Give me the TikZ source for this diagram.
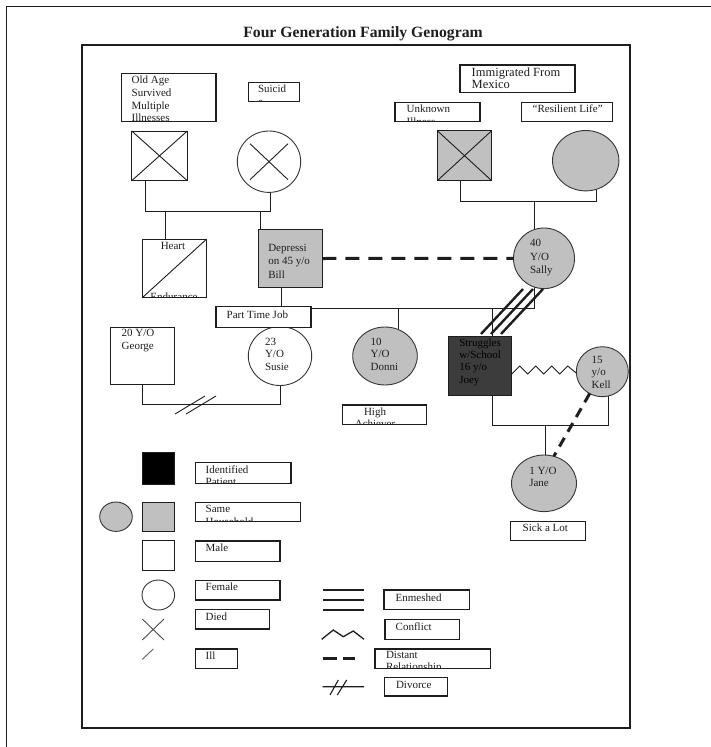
\documentclass[tikz,border=0pt]{standalone}
\usepackage{fontspec}
\setmainfont{Liberation Serif}
\usetikzlibrary{backgrounds,shapes.geometric,calc}
\definecolor{gfill}{HTML}{C0C0C0}
\definecolor{jfill}{HTML}{3C3C3C}
\definecolor{ink}{HTML}{1E1E1E}
\newcommand\ml[2][12.3]{{\fontsize{11}{#1}\selectfont\begin{tabular}[t]{@{}l@{}}#2\end{tabular}}}
\newcommand\tb[5]{\node[tbox, minimum width=#4, minimum height=#5] (#1) at (#2,#3) {};}
\newcommand\btext[5][12.3]{\begin{scope}\clip (#2.south west) rectangle (#2.north east);\node[lbl,anchor=base west] (#2-t) at (#3,#4) {\ml[#1]{#5}};\end{scope}}
\tikzset{
  tbox/.style={draw=ink, line width=1.1pt, fill=white, anchor=north west, inner sep=0pt, outer sep=0pt},
  sq/.style={draw=ink, line width=0.9pt, anchor=north west, inner sep=0pt, outer sep=0pt},
  circ/.style={ellipse, draw=ink!90, line width=0.9pt, inner sep=0pt, outer sep=0pt},
  lbl/.style={inner sep=0pt, outer sep=0pt, text=ink},
  conn/.style={draw=ink, line width=0.9pt},
  distant/.style={draw=ink, line width=3pt, dash pattern=on 14pt off 9pt},
  enm/.style={draw=ink, line width=2.4pt},
}
\begin{document}
\begin{tikzpicture}[x=1pt,y=-1pt]
\useasboundingbox (0,0) rectangle (710,747);
% ---------- shapes ----------
\node[draw=ink, line width=2.4pt, anchor=north west, minimum width=548.5, minimum height=683, inner sep=0pt] (frame) at (80.5,44) {};
\node[font=\fontsize{15.7}{18}\selectfont\bfseries, anchor=base, inner sep=0pt, text=ink] (title) at (363,37.5) {Four Generation Family Genogram};

\node[sq, fill=white, minimum width=55.6, minimum height=49.7] (gf1) at (131.7,131) {};
\node[circ, fill=white, minimum width=63.4, minimum height=61.4] (gm1) at (269,161.7) {};
\node[sq, fill=gfill, minimum width=54.4, minimum height=50] (gf2) at (437.3,130.7) {};
\node[circ, fill=gfill, minimum width=66.4, minimum height=60.4] (gm2) at (585.7,160.7) {};

\node[sq, fill=white, minimum width=64, minimum height=58.3] (heart) at (142.7,239) {};
\node[sq, fill=gfill, minimum width=64, minimum height=58.4] (bill) at (258.3,229.3) {};
\node[circ, fill=gfill, minimum width=61, minimum height=60.6] (sally) at (544,258.3) {};

\node[sq, fill=white, minimum width=64.3, minimum height=57] (george) at (110.5,327.3) {};
\node[circ, fill=white, minimum width=63.4, minimum height=59] (susie) at (280,356) {};
\node[circ, fill=gfill, minimum width=64.6, minimum height=58] (donni) at (385,356) {};
\node[sq, fill=jfill, minimum width=63.4, minimum height=59] (joey) at (448.3,336.7) {};
\node[circ, fill=gfill, minimum width=52, minimum height=50] (kell) at (602.3,371.7) {};
\node[circ, fill=gfill, minimum width=65, minimum height=56.6] (jane) at (544,483.3) {};

% ---------- connectors (behind) ----------
\begin{scope}[on background layer]
\fill[white] (0,0) rectangle (710,747);
\draw[line width=1.4pt, ink] (712,6.7) -- (6.7,6.7) -- (6.7,749);
\coordinate (b1L) at (145,211.7); \coordinate (b1R) at (270.7,211.7);
\draw[conn] (b1L |- gf1.center) -- (b1L) -- (b1R) -- (b1R |- gm1.center);
\coordinate (hx) at (165.7,211.7); \draw[conn] (hx) -- (hx |- heart.center);
\coordinate (bx) at (260,211.7); \draw[conn] (bx) -- (bx |- bill.center);
\coordinate (b2L) at (460.7,201); \coordinate (b2R) at (596,201); \coordinate (b2M) at (534,201);
\draw[conn] (b2L |- gf2.center) -- (b2L) -- (b2R) -- (b2R |- gm2.center);
\draw[conn] (b2M) -- (b2M |- sally.center);
\coordinate (c3L) at (281.7,308.3); \coordinate (c3R) at (534,308.3);
\draw[conn] (c3L |- bill.center) -- (c3L) -- (c3R) -- (c3R |- sally.center);
\coordinate (dn) at (398.3,308.3); \draw[conn] (dn) -- (dn |- donni.center);
\coordinate (sz) at (280,308.3); \draw[conn] (sz) -- (susie.center);
\coordinate (jy) at (492.3,308.3); \coordinate (hhL) at (492.3,425); \coordinate (hhR) at (608.3,425); \coordinate (hhM) at (545,425);
\draw[conn] (jy) -- (hhL) -- (hhR) -- (hhR |- kell.center);
\draw[conn] (hhM) -- (hhM |- jane.center);
\coordinate (dvL) at (142.7,404.3); \coordinate (dvR) at (280,404.3);
\draw[conn] (dvL |- george.center) -- (dvL) -- (dvR) -- (susie.center);
\end{scope}

% ---------- marks on shapes ----------
\draw[conn] (gf1.north west) -- (gf1.south east) (gf1.south west) -- (gf1.north east);
\draw[conn] (gf2.north west) -- (gf2.south east) (gf2.south west) -- (gf2.north east);
\draw[conn] ($(gm1.center)+(-19,-18)$) -- ($(gm1.center)+(19,18)$) ($(gm1.center)+(-19,18)$) -- ($(gm1.center)+(19,-18)$);
\draw[conn] (heart.south west) -- (heart.north east);

% relationships
\draw[distant] (bill.east) -- (sally.west);
\draw[distant, dash pattern=on 10pt off 7pt] (kell.240) -- (jane.70);
\coordinate (e1a) at (481,334); \coordinate (e1b) at (523,289);
\coordinate (e2a) at (491,334); \coordinate (e2b) at (533,289);
\coordinate (e3a) at (501,334); \coordinate (e3b) at (543,289);
\draw[enm] (e1a) -- (e1b) (e2a) -- (e2b) (e3a) -- (e3b);
\coordinate (cz0) at (511.7,374);
\draw[conn] (cz0) -- ++(8,-8) -- ++(8,8) -- ++(8,-8) -- ++(8,8) -- ++(8,-8) -- ++(8,8) -- ++(8,-8) -- ++(8.5,7);
\coordinate (dv1a) at (175,414); \coordinate (dv1b) at (205,396);
\coordinate (dv2a) at (186,414); \coordinate (dv2b) at (216,396);
\draw[conn] (dv1a) -- (dv1b) (dv2a) -- (dv2b);

% ---------- texts in shapes ----------
\node[lbl, anchor=base] (heart-t) at (173,249) {\fontsize{11}{12}\selectfont Heart};
\begin{scope}\clip (heart.south west) rectangle (heart.north east);
\node[lbl, anchor=base] (heart-e) at (174,300) {\fontsize{11}{12}\selectfont Endurance};
\end{scope}
\node[lbl, anchor=base west] (bill-t) at (268.3,251.7) {\ml[13.2]{Depressi\\on 45 y/o\\Bill}};
\node[lbl, anchor=base west] (sally-t) at (530,246.7) {\ml[13.3]{40\\Y/O\\Sally}};
\node[lbl, anchor=base west] (george-t) at (121.7,336.7) {\ml[12.3]{20 Y/O\\George}};
\node[lbl, anchor=base west] (susie-t) at (265,345) {\ml[12.5]{23\\Y/O\\Susie}};
\node[lbl, anchor=base west] (donni-t) at (370.7,345) {\ml[12.5]{10\\Y/O\\Donni}};
\node[lbl, anchor=base west, text=black] (joey-t) at (459.3,346) {\ml[12.4]{Struggles\\w/School\\16 y/o\\Joey}};
\node[lbl, anchor=base west] (kell-t) at (591.7,363.3) {\ml[12.5]{15\\y/o\\Kell}};
\node[lbl, anchor=base west] (jane-t) at (529.3,474) {\ml[12]{1 Y/O\\Jane}};

% ---------- text boxes ----------
\tb{oldage}{121.7}{73.3}{94.3}{48.4}
\btext[12.8]{oldage}{131.7}{83.5}{Old Age\\Survived\\Multiple\\Illnesses}
\tb{suicide}{248.3}{82.7}{51}{19}
\btext{suicide}{258}{92.7}{Suicid\\e}
\tb{immig}{460}{65}{115}{27.7}
\begin{scope}\clip (immig.south west) rectangle (immig.north east);
\node[lbl, anchor=base west] (immig-t) at (471.7,76.5) {\fontsize{12.5}{12.3}\selectfont\begin{tabular}[t]{@{}l@{}}Immigrated From\\Mexico\end{tabular}};
\end{scope}
\tb{unknown}{395}{102.3}{85}{19.4}
\btext{unknown}{406.7}{112.7}{Unknown\\Illness}
\tb{resil}{521.7}{102.3}{90.6}{19.4}
\btext{resil}{532.7}{112.7}{“Resilient Life”}
\tb{ptjob}{216}{306.7}{95}{20.6}
\btext{ptjob}{226.7}{318}{Part Time Job}
\tb{achiever}{342.7}{405}{84}{19.3}
\begin{scope}\clip (achiever.south west) rectangle (achiever.north east);
\node[lbl, anchor=base] (achiever-t) at (375,415) {\fontsize{11}{12.3}\selectfont\begin{tabular}[t]{@{}c@{}}High\\Achiever\end{tabular}};
\end{scope}
\tb{sick}{510.7}{521.7}{75}{19}
\btext{sick}{522.7}{531.7}{Sick a Lot}

% ---------- legend ----------
\node[sq, fill=black, minimum width=32, minimum height=31.3] (lg-black) at (142.3,452.7) {};
\node[circ, fill=gfill, minimum width=32.6, minimum height=29.4] (lg-gcirc) at (116,516.7) {};
\node[sq, fill=gfill, minimum width=32, minimum height=28.7] (lg-gsq) at (142.3,502.3) {};
\node[sq, fill=white, minimum width=32, minimum height=30] (lg-male) at (142.3,540.7) {};
\node[circ, fill=white, minimum width=32.6, minimum height=30] (lg-fem) at (158.3,595) {};
\coordinate (x1a) at (142.3,619); \coordinate (x1b) at (164,640);
\coordinate (x2a) at (142.3,640); \coordinate (x2b) at (164,619);
\draw[conn, draw=ink!80] (x1a) -- (x1b) (x2a) -- (x2b);
\coordinate (il1) at (142.3,659.3); \coordinate (il2) at (153.3,649);
\draw[conn, draw=ink!70] (il1) -- (il2);

\tb{lgid}{195.3}{462.7}{95.7}{20.6}
\btext{lgid}{205.7}{473.3}{Identified\\Patient}
\tb{lgsame}{195.3}{502.3}{105.4}{19.4}
\btext{lgsame}{205.7}{512.7}{Same\\Household}
\tb{lgmale}{195.3}{541}{84.7}{20.7}
\btext{lgmale}{205.7}{551.7}{Male}
\tb{lgfem}{195.3}{580.7}{84.7}{19.3}
\btext{lgfem}{205.7}{590}{Female}
\tb{lgdied}{195.3}{609.3}{74}{19.7}
\btext{lgdied}{205.7}{620}{Died}
\tb{lgill}{195.3}{649}{42.4}{19.7}
\btext{lgill}{205.7}{659.3}{Ill}

\coordinate (m1a) at (322.7,590); \coordinate (m1b) at (364,590);
\coordinate (m2a) at (322.7,600); \coordinate (m2b) at (364,600);
\coordinate (m3a) at (322.7,610); \coordinate (m3b) at (364,610);
\draw[ink, line width=1.6pt] (m1a) -- (m1b) (m2a) -- (m2b) (m3a) -- (m3b);
\coordinate (k0) at (321.7,639.3);
\draw[ink, line width=1.3pt] (k0) -- (333.3,630) -- (343.3,636.7) -- (353.3,631) -- (364,639.3);
\coordinate (d1a) at (322.7,658.3); \coordinate (d1b) at (336.7,658.3);
\coordinate (d2a) at (343.3,658.3); \coordinate (d2b) at (355,658.3);
\draw[ink, line width=3pt] (d1a) -- (d1b) (d2a) -- (d2b);
\coordinate (v0a) at (322.7,686.7); \coordinate (v0b) at (364,686.7);
\coordinate (v1a) at (330,695); \coordinate (v1b) at (338.3,680);
\coordinate (v2a) at (337.3,695); \coordinate (v2b) at (346.7,680);
\draw[ink, line width=1.1pt] (v0a) -- (v0b) (v1a) -- (v1b) (v2a) -- (v2b);

\tb{lgenm}{384}{590}{85.3}{19.3}
\btext{lgenm}{395.7}{601.7}{Enmeshed}
\tb{lgconf}{385}{619.3}{74.3}{20}
\btext{lgconf}{395.7}{630}{Conflict}
\tb{lgdist}{375}{649}{115.7}{19.3}
\btext{lgdist}{386}{658.3}{Distant\\Relationship}
\tb{lgdiv}{384.3}{677.3}{63.4}{18.7}
\btext{lgdiv}{396}{688.3}{Divorce}
\end{tikzpicture}
\end{document}
